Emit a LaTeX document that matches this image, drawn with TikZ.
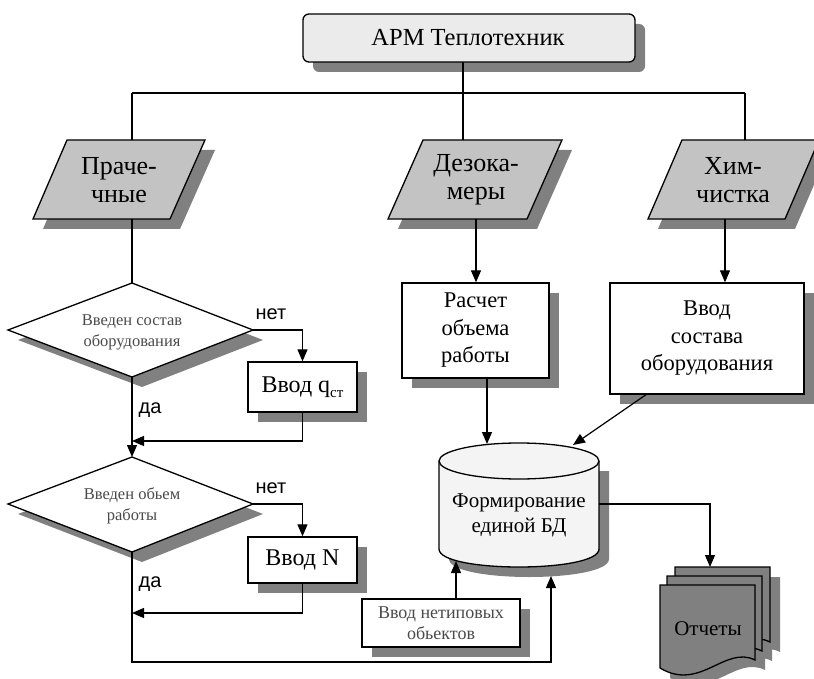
\documentclass[tikz,border=0pt]{standalone}
\usepackage{fontspec}
\setmainfont{Liberation Serif}
\newfontfamily\yesnofont{Liberation Sans}
\usetikzlibrary{arrows.meta,shadows}

\definecolor{topfill}{HTML}{EBEBEB}
\definecolor{parafill}{HTML}{C3C3C3}
\definecolor{shadegray}{HTML}{808080}
\definecolor{dbfill}{HTML}{F4F4F4}
\definecolor{softtext}{HTML}{4A4A4A}

\begin{document}
\begin{tikzpicture}[x=1pt,y=-1pt,
  outline/.style={draw=black,line width=1.3pt,line join=miter},
  shade/.style={fill=shadegray,draw=none},
  conn/.style={draw=black,line width=1.2pt},
  arr/.style={conn,-{Triangle[length=12pt,width=10pt]}},
  boxnode/.style={outline,fill=white,align=center,inner sep=0pt,
    drop shadow={shadow xshift=10pt,shadow yshift=-10pt,fill=shadegray,opacity=1}},
  bigtext/.style={font=\fontsize{22.5}{27.5}\selectfont},
  paratext/.style={align=center,inner sep=0pt,font=\fontsize{26}{28}\selectfont},
  smalltext/.style={align=center,inner sep=0pt,text=softtext,font=\fontsize{16.5}{21}\selectfont},
  yesno/.style={inner sep=0pt,font=\yesnofont\fontsize{20}{22}\selectfont},
]
\useasboundingbox (0,0) rectangle (814,679);

% ---------- top block ----------
\fill[shade,rounded corners=6pt] (313,24) rectangle (645,72);
\draw[outline,fill=topfill,rounded corners=6pt] (303,14) rectangle (635,62);
\node[inner sep=0pt,font=\fontsize{24.5}{28}\selectfont] (arm) at (468,38) {АРМ Теплотехник};

% ---------- three branches ----------
\fill[shade] (77,150) -- (215,150) -- (180,229) -- (43,229) -- cycle;
\draw[outline,fill=parafill] (67,140) -- (205,140) -- (170,219) -- (33,219) -- cycle;
\node[paratext] (laundry) at (119,180) {Праче-\\чные};

\fill[shade] (433,150) -- (572,150) -- (537,229) -- (398,229) -- cycle;
\draw[outline,fill=parafill] (423,140) -- (562,140) -- (527,219) -- (388,219) -- cycle;
\node[paratext] (disinf) at (476,180) {Дезока-\\меры};

\fill[shade] (692,150) -- (829,150) -- (795,229) -- (658,229) -- cycle;
\draw[outline,fill=parafill] (682,140) -- (819,140) -- (785,219) -- (648,219) -- cycle;
\node[paratext] (drycl) at (733,180) {Хим-\\чистка};

% bus from the top block
\coordinate (armout) at (463,62);
\coordinate (busl) at (132,93);
\coordinate (busc) at (463,93);
\coordinate (busr) at (745,93);
\coordinate (laundryin) at (132,140);
\coordinate (disinfin) at (463,140);
\coordinate (dryclin) at (745,140);
\draw[conn] (armout) -- (busc);
\draw[conn] (busl) -- (busr);
\draw[conn] (busl) -- (laundryin);
\draw[conn] (busc) -- (disinfin);
\draw[conn] (busr) -- (dryclin);

% ---------- right-hand boxes ----------
\node[boxnode,bigtext,minimum width=147pt,minimum height=95pt] (calc) at (475.5,330.5) {Расчет\\объема\\работы};
\node[boxnode,bigtext,minimum width=194pt,minimum height=111pt] (equip) at (707,338.5) {Ввод\\состава\\оборудования};

\coordinate (disinfout) at (476,219);
\coordinate (dryclout) at (725,219);
\draw[arr] (disinfout) -- (disinfout |- calc.north);
\draw[arr] (dryclout) -- (dryclout |- equip.north);

% ---------- database cylinder ----------
\fill[shade] (449,471) -- (449,559) .. controls (449,583) and (609,583) .. (609,559) -- (609,471) -- cycle;
\draw[outline,fill=dbfill] (439,461) -- (439,549) .. controls (439,573) and (599,573) .. (599,549) -- (599,461);
\draw[outline,fill=dbfill] (519,461) ellipse [x radius=80, y radius=18];
\node[align=center,inner sep=0pt,font=\fontsize{21}{25}\selectfont] (db) at (519,515) {Формирование\\единой БД};

\coordinate (dbtop1) at (487,444);
\coordinate (dbtop2) at (573,445);
\coordinate (dbright) at (599,504);
\coordinate (dbbot1) at (456,561);
\coordinate (dbbot2) at (551,576);
\coordinate (calcout) at (487,378);
\coordinate (equipout) at (647,394);
\draw[arr] (calcout) -- (dbtop1);
\draw[arr] (equipout) -- (dbtop2);

% ---------- reports ----------
\foreach \dx/\dy in {25/-8, 17/1, 10/10}{
  \fill[shade,shift={(\dx,\dy)}] (660,585) -- (755,585) -- (755,660)
     .. controls (725,645) and (700,692) .. (660,668) -- cycle;
}
\foreach \dx/\dy in {15/-18, 7/-9, 0/0}{
  \draw[outline,fill=shadegray,shift={(\dx,\dy)}] (660,585) -- (755,585) -- (755,660)
     .. controls (725,645) and (700,692) .. (660,668) -- cycle;
}
\node[inner sep=0pt,font=\fontsize{21}{24}\selectfont] (reports) at (708,629) {Отчеты};
\coordinate (reportsin) at (710,567);
\draw[arr] (dbright) -| (reportsin);

% ---------- non-standard objects ----------
\node[boxnode,smalltext,font=\fontsize{18}{21}\selectfont,minimum width=158pt,minimum height=48pt] (extra) at (441,623) {Ввод нетиповых\\обьектов};
\draw[arr] (extra.north -| dbbot1) -- (dbbot1);

% ---------- laundry decision chain ----------
\fill[shade] (142,293) -- (263,340) -- (142,387) -- (18,340) -- cycle;
\draw[outline,fill=white] (132,283) -- (253,330) -- (132,377) -- (8,330) -- cycle;
\node[smalltext] (ask1) at (132,332) {Введен состав\\оборудования};
\coordinate (ask1top) at (132,283);
\coordinate (ask1right) at (253,330);
\coordinate (ask1bot) at (132,377);
\coordinate (laundryout) at (132,219);
\draw[conn] (laundryout) -- (ask1top);

\node[boxnode,font=\fontsize{24}{26}\selectfont,minimum width=109pt,minimum height=50pt] (qin) at (302.5,387)
  {Ввод q\raisebox{-0.45ex}{\fontsize{15}{15}\selectfont ст}};
\draw[arr] (ask1right) -| (qin.north);
\node[yesno] (no1) at (271,314) {нет};

\fill[shade] (142,467) -- (263,514) -- (142,562) -- (18,514) -- cycle;
\draw[outline,fill=white] (132,457) -- (253,504) -- (132,552) -- (8,504) -- cycle;
\node[smalltext] (ask2) at (132,506) {Введен обьем\\работы};
\coordinate (ask2top) at (132,457);
\coordinate (ask2right) at (253,504);
\coordinate (ask2bot) at (132,552);
\draw[arr] (ask1bot) -- (ask2top);
\node[yesno] (yes1) at (150,410) {да};

\coordinate (qjoin) at (132,441);
\draw[arr] (qin.south) |- (qjoin);

\node[boxnode,font=\fontsize{24}{26}\selectfont,minimum width=109pt,minimum height=46pt] (nin) at (302.5,560) {Ввод N};
\draw[arr] (ask2right) -| (nin.north);
\node[yesno] (no2) at (271,488) {нет};
\node[yesno] (yes2) at (150,584) {да};

\coordinate (njoin) at (132,613);
\draw[arr] (nin.south) |- (njoin);

% return path to the database
\coordinate (loopcorner) at (132,662);
\draw[arr] (ask2bot) -- (loopcorner) -| (dbbot2);

\end{tikzpicture}
\end{document}
